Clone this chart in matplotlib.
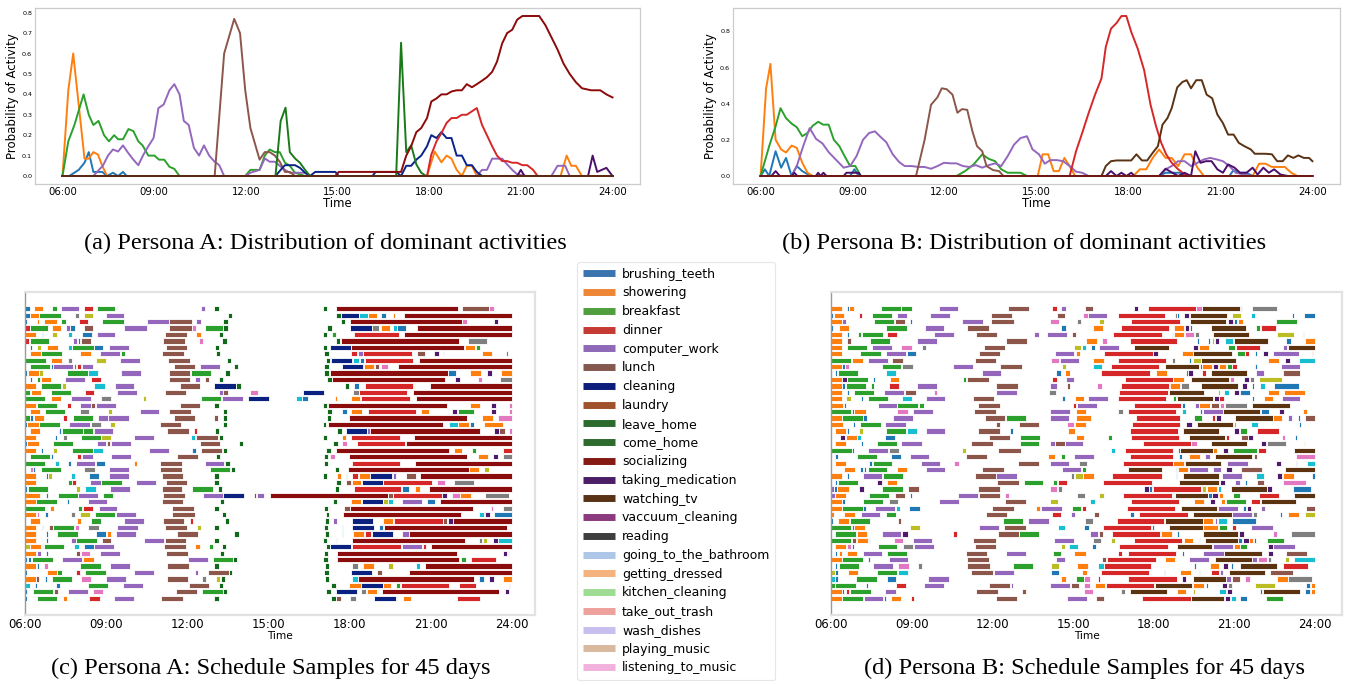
import matplotlib
matplotlib.use("Agg")
import matplotlib.pyplot as plt
from matplotlib.lines import Line2D

W, H = 1348, 685

HOURS = [6, 9, 12, 15, 18, 21, 24]
HOUR_LABELS = ["06:00", "09:00", "12:00", "15:00", "18:00", "21:00", "24:00"]

# ---------------- Persona A: dominant activity probabilities (hour, prob) -------------
A_SHOWERING = [(6.0, 0), (6.19, 0.42), (6.35, 0.60), (6.72, 0.085), (6.86, 0.085), (7.01, 0.117),
               (7.16, 0.105), (7.30, 0.05), (7.46, 0), (17.93, 0), (18.18, 0.12), (18.4, 0.067),
               (18.57, 0.10), (18.73, 0.085), (18.9, 0.03), (19.07, 0), (19.23, 0.05), (19.4, 0.05),
               (19.56, 0), (22.3, 0), (22.5, 0.10), (22.65, 0.05), (22.8, 0.05), (23.0, 0), (24.0, 0)]
A_BRUSHING = [(6.0, 0), (6.22, 0), (6.53, 0.03), (6.72, 0.065), (6.86, 0.117), (7.01, 0.02), (7.3, 0.02),
              (7.46, 0), (7.65, 0.016), (7.82, 0), (7.98, 0.02), (8.1, 0), (24.0, 0)]
A_BREAKFAST = [(6.0, 0), (6.19, 0.17), (6.39, 0.25), (6.69, 0.40), (6.86, 0.30), (7.01, 0.25), (7.18, 0.27),
               (7.36, 0.20), (7.52, 0.17), (7.69, 0.20), (7.82, 0.18), (7.98, 0.18), (8.16, 0.23),
               (8.32, 0.22), (8.48, 0.17), (8.62, 0.15), (8.81, 0.10), (9.01, 0.10), (9.16, 0.08),
               (9.33, 0.08), (9.5, 0.045), (9.66, 0.035), (9.83, 0), (11.98, 0), (12.15, 0.03),
               (12.45, 0.03), (12.62, 0.10), (12.78, 0.13), (12.95, 0.117), (13.11, 0.117),
               (13.28, 0.065), (13.44, 0.05), (13.61, 0.016), (13.94, 0), (24.0, 0)]
A_COMPUTER = [(6.0, 0), (7.01, 0), (7.16, 0.025), (7.32, 0.05), (7.49, 0.10), (7.65, 0.13), (7.82, 0.12),
              (7.98, 0.15), (8.15, 0.113), (8.32, 0.08), (8.48, 0.053), (8.65, 0.105), (8.81, 0.146),
              (8.98, 0.186), (9.14, 0.333), (9.31, 0.35), (9.5, 0.42), (9.66, 0.45), (9.83, 0.40),
              (9.97, 0.27), (10.13, 0.25), (10.3, 0.138), (10.47, 0.10), (10.63, 0.15), (10.8, 0.10),
              (10.96, 0.073), (11.13, 0.053), (11.29, 0), (11.98, 0), (12.15, 0.016), (12.45, 0.03),
              (12.62, 0.086), (12.78, 0.07), (12.95, 0.07), (13.11, 0.05), (13.28, 0.03), (13.44, 0.016),
              (13.94, 0.016), (14.1, 0), (19.56, 0), (19.73, 0.03), (19.89, 0.03), (20.06, 0.085),
              (20.22, 0.085), (20.39, 0.085), (20.55, 0.057), (20.72, 0.03), (20.88, 0.008),
              (21.2, 0), (22.0, 0), (22.2, 0.05), (22.45, 0.05), (22.6, 0), (24.0, 0)]
A_LUNCH = [(6.0, 0), (10.98, 0), (11.29, 0.60), (11.62, 0.77), (11.81, 0.70), (11.98, 0.42), (12.15, 0.235),
           (12.45, 0.08), (12.62, 0.117), (12.78, 0.117), (12.95, 0.10), (13.11, 0.07), (13.28, 0.02),
           (13.44, 0.02), (13.61, 0), (24.0, 0)]
A_LEAVE_HOME = [(6.0, 0), (12.97, 0), (13.14, 0.27), (13.3, 0.335), (13.44, 0.117), (13.61, 0.086),
                (13.77, 0.065), (13.94, 0.03), (14.1, 0), (16.92, 0), (17.08, 0.653), (17.25, 0.117),
                (17.41, 0.15), (17.58, 0.057), (17.74, 0.016), (17.9, 0), (24.0, 0)]
A_CLEANING = [(6.0, 0), (12.97, 0), (13.14, 0.03), (13.28, 0.053), (13.61, 0.053), (13.77, 0.04),
              (13.94, 0.016), (14.1, 0), (14.27, 0.02), (14.93, 0.02), (15.04, 0), (16.14, 0),
              (16.25, 0.02), (16.92, 0.02), (17.08, 0), (17.25, 0.05), (17.41, 0.05), (17.58, 0.08),
              (17.74, 0.10), (17.93, 0.146), (18.07, 0.20), (18.24, 0.186), (18.4, 0.215), (18.57, 0.186),
              (18.73, 0.186), (18.9, 0.10), (19.07, 0.10), (19.23, 0.053), (19.4, 0.053), (19.56, 0.02),
              (19.73, 0), (24.0, 0)]
A_SOCIALIZING = [(6.0, 0), (14.93, 0), (15.04, 0.02), (17.08, 0.02), (17.25, 0.10), (17.41, 0.146),
                 (17.58, 0.215), (17.74, 0.235), (17.93, 0.284), (18.07, 0.365), (18.24, 0.38), (18.4, 0.40),
                 (18.57, 0.40), (18.73, 0.414), (18.9, 0.42), (19.07, 0.42), (19.23, 0.45), (19.4, 0.435),
                 (19.56, 0.45), (19.73, 0.467), (19.89, 0.484), (20.06, 0.51), (20.22, 0.56), (20.39, 0.65),
                 (20.55, 0.70), (20.72, 0.717), (20.88, 0.766), (21.05, 0.784), (21.3, 0.784), (21.6, 0.784),
                 (21.8, 0.74), (22.0, 0.68), (22.2, 0.62), (22.4, 0.55), (22.6, 0.50), (22.8, 0.46),
                 (23.0, 0.43), (23.3, 0.42), (23.6, 0.42), (23.8, 0.40), (24.0, 0.385)]
A_DINNER = [(6.0, 0), (17.93, 0), (18.07, 0.105), (18.24, 0.17), (18.4, 0.21), (18.57, 0.26), (18.73, 0.284),
            (18.9, 0.284), (19.07, 0.30), (19.23, 0.30), (19.4, 0.317), (19.56, 0.333), (19.73, 0.25),
            (19.89, 0.20), (20.06, 0.146), (20.22, 0.10), (20.39, 0.073), (20.55, 0.073), (20.72, 0.065),
            (20.88, 0.065), (21.05, 0.053), (21.21, 0.053), (21.4, 0.03), (21.55, 0), (24.0, 0)]
A_MEDICATION = [(6.0, 0), (20.88, 0), (21.0, 0.03), (21.12, 0), (23.2, 0), (23.35, 0.10), (23.5, 0.02),
                (23.65, 0.03), (23.8, 0.04), (24.0, 0)]
A_BASELINE = [(6.0, 0), (24.0, 0)]

# ---------------- Persona B ----------------
B_SHOWERING = [(6.0, 0), (6.18, 0.485), (6.32, 0.62), (6.49, 0.20), (6.67, 0.147), (6.83, 0.13), (7.01, 0.168),
               (7.18, 0.156), (7.36, 0.073), (7.53, 0.018), (7.7, 0), (15.04, 0), (15.2, 0.12), (15.38, 0.12),
               (15.56, 0.027), (15.73, 0.027), (15.91, 0.10), (16.08, 0.055), (16.26, 0), (18.16, 0),
               (18.37, 0.037), (18.58, 0.037), (18.79, 0.10), (19.0, 0.147), (19.21, 0.10), (19.41, 0.10),
               (19.62, 0.055), (19.83, 0.12), (20.04, 0.12), (20.25, 0.046), (20.46, 0), (22.05, 0),
               (22.26, 0.068), (22.47, 0.068), (22.68, 0.05), (23.1, 0.05), (23.31, 0.018), (23.51, 0), (24.0, 0)]
B_BRUSHING = [(6.0, 0), (6.14, 0.037), (6.28, 0), (6.49, 0.137), (6.67, 0.046), (6.83, 0.10), (7.01, 0),
              (7.18, 0.055), (7.36, 0.027), (7.53, 0.01), (7.7, 0), (8.92, 0), (9.06, 0.037), (9.2, 0),
              (19.0, 0), (19.21, 0.018), (19.69, 0.018), (19.9, 0), (21.29, 0), (21.43, 0.033),
              (21.57, 0.018), (21.85, 0.018), (22.05, 0), (24.0, 0)]
B_BREAKFAST = [(6.0, 0), (6.28, 0.165), (6.49, 0.275), (6.65, 0.375), (6.83, 0.32), (7.01, 0.29), (7.18, 0.27),
               (7.36, 0.22), (7.53, 0.238), (7.7, 0.278), (7.88, 0.30), (8.04, 0.284), (8.22, 0.284),
               (8.39, 0.20), (8.57, 0.165), (8.74, 0.11), (8.92, 0.055), (9.09, 0.055), (9.27, 0),
               (12.39, 0), (12.67, 0.027), (12.95, 0.064), (13.23, 0.12), (13.44, 0.095), (13.65, 0.082),
               (13.85, 0.037), (14.06, 0.018), (14.48, 0.018), (14.69, 0), (24.0, 0)]
B_COMPUTER = [(6.0, 0), (7.01, 0), (7.18, 0.055), (7.39, 0.165), (7.6, 0.265), (7.81, 0.205), (8.02, 0.18),
              (8.22, 0.132), (8.43, 0.095), (8.71, 0.046), (8.92, 0.055), (9.13, 0.11), (9.34, 0.20),
              (9.54, 0.238), (9.73, 0.247), (9.89, 0.22), (10.1, 0.187), (10.31, 0.12), (10.52, 0.077),
              (10.7, 0.055), (10.93, 0.055), (11.14, 0.05), (11.35, 0.05), (11.56, 0.04), (11.77, 0.055),
              (11.98, 0.073), (12.19, 0.07), (12.39, 0.07), (12.6, 0.055), (12.81, 0.05), (13.02, 0.06),
              (13.23, 0.046), (13.44, 0.06), (13.65, 0.07), (13.85, 0.055), (14.06, 0.11), (14.27, 0.174),
              (14.48, 0.21), (14.69, 0.22), (14.87, 0.147), (15.08, 0.12), (15.27, 0.068), (15.45, 0.088),
              (15.66, 0.088), (15.87, 0.082), (16.08, 0.055), (16.29, 0.024), (16.49, 0.018), (16.7, 0),
              (19.0, 0), (19.21, 0.037), (19.41, 0.055), (19.62, 0.082), (19.83, 0.082), (20.04, 0.055),
              (20.25, 0.073), (20.46, 0.092), (20.67, 0.10), (20.87, 0.092), (21.08, 0.082), (21.29, 0.055),
              (21.5, 0.018), (21.71, 0.01), (22.05, 0), (24.0, 0)]
B_LUNCH = [(6.0, 0), (11.07, 0), (11.35, 0.20), (11.56, 0.394), (11.77, 0.436), (11.91, 0.485), (12.07, 0.48),
           (12.26, 0.45), (12.42, 0.35), (12.57, 0.37), (12.74, 0.366), (12.91, 0.247), (13.06, 0.165),
           (13.23, 0.137), (13.37, 0.055), (13.58, 0.033), (13.78, 0.027), (13.92, 0), (24.0, 0)]
B_DINNER = [(6.0, 0), (16.08, 0), (16.29, 0.137), (16.49, 0.238), (16.7, 0.348), (16.91, 0.45), (17.12, 0.54),
            (17.26, 0.714), (17.43, 0.815), (17.61, 0.846), (17.77, 0.885), (17.93, 0.885), (18.09, 0.797),
            (18.3, 0.705), (18.51, 0.586), (18.72, 0.394), (18.9, 0.275), (19.07, 0.183), (19.23, 0.12),
            (19.41, 0.073), (19.62, 0.037), (19.83, 0.01), (20.04, 0), (24.0, 0)]
B_TV = [(6.0, 0), (17.12, 0), (17.26, 0.055), (17.43, 0.082), (17.61, 0.086), (18.09, 0.086), (18.26, 0.12),
        (18.44, 0.086), (18.61, 0.086), (18.79, 0.128), (18.96, 0.165), (19.11, 0.284), (19.27, 0.32),
        (19.41, 0.375), (19.59, 0.49), (19.76, 0.52), (19.9, 0.53), (20.04, 0.485), (20.21, 0.53),
        (20.39, 0.53), (20.55, 0.45), (20.73, 0.43), (20.9, 0.34), (21.08, 0.293), (21.25, 0.229),
        (21.43, 0.229), (21.6, 0.183), (21.78, 0.165), (21.99, 0.147), (22.12, 0.123), (22.28, 0.123),
        (22.47, 0.123), (22.68, 0.12), (22.85, 0.082), (23.03, 0.082), (23.2, 0.114), (23.38, 0.10),
        (23.54, 0.114), (23.72, 0.10), (23.89, 0.10), (24.0, 0.082)]
B_MEDICATION = [(6.0, 0), (6.35, 0), (6.49, 0.027), (6.63, 0), (7.01, 0), (7.1, 0.018), (7.2, 0), (7.8, 0),
                (7.88, 0.018), (7.95, 0), (8.05, 0.018), (8.15, 0), (8.71, 0), (8.8, 0.018), (9.2, 0.018),
                (9.27, 0), (17.26, 0), (17.43, 0.027), (17.61, 0), (17.77, 0.018), (17.93, 0), (18.09, 0.018),
                (18.2, 0), (19.0, 0), (19.21, 0.04), (19.41, 0.02), (19.62, 0), (19.83, 0.018), (20.04, 0),
                (20.18, 0.137), (20.35, 0.073), (20.53, 0.082), (20.71, 0.082), (20.9, 0.037), (21.08, 0.018),
                (21.25, 0.064), (21.46, 0.046), (21.64, 0.018), (21.85, 0.018), (22.05, 0.046), (22.21, 0.008),
                (22.4, 0.046), (22.58, 0.018), (22.75, 0.037), (22.96, 0.008), (23.2, 0), (24.0, 0)]
B_BASELINE = [(6.0, 0), (24.0, 0)]

LINE_COLORS = {
    "brushing": "#1f77b4", "showering": "#ff7f0e", "breakfast": "#2ca02c", "computer": "#9467bd",
    "lunch": "#8c564b", "leave_home": "#1a7a1a", "cleaning": "#0a2388", "socializing": "#8b0a0a",
    "dinner": "#d62728", "medication": "#4b0f6b", "tv": "#5a3214", "base_a": "#5a2a10", "base_b": "#6e1a10",
}

# ---------------- Schedule samples: one string per day, tokens "<code><start>-<end>" in 10-min slots from 06:00 --
SCHED_A = [
    "b0 s2-4 f6-7 c8-12 d13-15 f16-20 c39-40 h42-43 h66-67 x69-96 l97-103 p103-104",
    "b0 s1-3 f3-8 g11-12 o13-15 c18-22 h45-46 h69-70 n70-74 y74-76 s76-78 b79-80 s81.5-82 x84-108",
    "b0-0.4 s2.7-3.2 s4.3-7 f8-9 d12-14 f17-22 c27-32 l32-37 c38-39 h44-45 h70-71 x72-97 p97-98 m104-105",
    "d0 f1-5 s6-8 c9-10 b10 l13-15 c22-27 l32-37 p37-38 f40-44 h44-45 h67-68 n72-77 g77-78.5 s79-81 y81.5-82.4 b82.6-84.5 x87-108",
    "s0-2.4 b3.7-4.1 o6-7 y9.5-10.4 b12.6-14.8 c16-20 l31-36 s38-39 h43-44 h66-67 f68-69 d73-83 x84-108",
    "d0-0.9 f1-5.4 c10.6-11.6 b11.8-12.2 l12.4-14.6 l30.7-35.5 p38.6-39.5 h43.7-44.7 h68.9-69.8 x70-96.3 g98.3-102.4",
    "b1-1.5 o2.7-3.6 s4.8-7.3 y9.5-10.4 f10.5-15.2 b15.3-17.4 c18.7-23 l31.3-35.9 h42.1-43 h66.1-67 n67.6-72.2 x72.4-97.3 s97.5-99.8 f100-100.9",
    "s1-3.5 f3.6-8.1 s12.2-14.6 c16.7-21.1 f21.3-22.2 l30.4-35.2 h42.4-43.3 h66.4-67.4 d72.4-73.7 c73.8-74.9 d75-85.9 l86.9-88.6 m90.7-91.8 p92.7-93 s101.3-103.6 g106.7-107.2",
    "f0-4.6 s5.8-8.3 g9.5-10.4 o15.7-17.9 c21.1-25.6 l31.7-36.5 h44.7-45.6 h66.7-67.6 n67.8-72.6 y72.8-74.1 b74.3-75.2 d75.3-86.1 x87.4-108",
    "f1-5.6 b5.7-6.2 c6.3-10.7 f10.9-11.3 d11.5-12.4 c12.6-15 l33-37.8 c38.7-43.2 h46.3-47.2 h66.4-67.4 n70.4-75 s75.2-77.5 l77.7-78.6 p78.9-80.6 x82.7-108",
    "b0-0.4 s0.6-3 o3.1-4.1 f9.3-13.9 y13.9-16.1 c21.3-25.7 l31.9-36.7 f36.8-41.3 h44.4-45.4 h66.4-67.5 x67.6-93.8 b93.9-95.5 s98.6-101.2 m102.5-103.5 s105.6-108",
    "b1-1.5 f2.7-3.3 s3.5-5.8 c8.9-13.3 d14.6-16.8 l32-36.7 c37.8-38.7 l40-40.9 h43-43.9 h67-68 x68-93.1 m95.3-96.4 p100.4-101.3 g105.4-108",
    "s0-2.4 f3.6-8 o8.1-9 y15.3-17.8 c19.9-24.2 l34.3-38.9 n42-46.7 h46.8-47.8 h71-71.9 b72.9-74.1 d75.4-86.1 s86.2-86.5 x89.8-108",
    "f0-1 s1.3-3.5 f5.8-10.1 d13.3-15.4 c20.5-24.8 l31-35.8 c43-43.9 l43.9-45 p50-51.7 n61.7-66.4 g72.7-74.1 d74.1-84.8 x86-108",
    "f0-4.4 s5.7-8 c10.2-14.7 g16.9-19 o26.1-26.9 f39.1-43.5 c43.7-48.3 n49.5-54 y60.2-61.5 b61.5-62.7 s68.8-69.1 s72.2-74.4 d74.6-85.3 x86.6-108",
    "s0-2.4 f2.6-7.2 d9.3-10.1 c12.2-14.6 l14.7-15.6 c15.7-20.1 l34.3-38.9 h42-43.1 h66.1-67 x67.3-93.5 s98.6-101 m103.3-104.4 p107.3-108",
    "s1-3.3 f4.4-8.9 g12.1-14.3 o18.5-19.4 c25.6-29.8 l31.9-36.8 h43.9-44.8 h66.9-68 y68-68.3 b70.4-71.3 s72.4-74.8 d76-86.8 s87.9-89.6 m94.8-95.9 f96-99.6 m103.3-104.4 p107.3-108",
    "f0-1 b1.1-1.7 s1.9-4.3 d8.5-9.4 f10.6-15 c16.1-18.3 c18.4-23 l33.1-37.8 l41.9-42.7 h43.9-44.8 h66.9-67.8 x71.9-98.1 s101.3-103.7 p104.8-108",
    "b0-0.4 s0.5-3 f3.1-7.8 c9.8-14.4 g14.6-16.8 o18.9-19.9 l30-34.7 h43.9-44.8 h66-66.8 x67.1-92.8 y94-96 s96-98.4 b98.6-99.6 s101.8-105.9",
    "s1-3.3 b7.6-8 f8.1-12.8 f12.8-15 c15.2-19.6 l31.6-36.3 d37.4-38.1 h42.2-43.1 h69.2-70.3 n71.2-75.8 c75.9-76.5 x76.5-100.9 m104.1-105.2 l105.2-106.4 p107.3-108",
    "s0-2.4 b6.7-7 g8.4-9.3 f12.4-16.8 o16.9-19.1 c24.2-28.7 y36.9-37.8 l37.9-42.7 h43.1-43.9 h66-67 s70.3-71.2 d72.3-83.2 x86.3-108",
    "b0-0.4 s0.5-3 f6.3-10.7 c15.9-18 l18.1-18.9 c19-23.5 l38.7-43.3 h47.4-48.3 h68.4-69.4 p70.4-71.5 d73.7-84.3 x84.5-108",
    "s0-2.4 b3.6-4.1 o6.3-7.2 f10.4-15 y15-17.3 c27.4-31.9 b37-38 l39.1-43.7 h43.9-44.8 h66.8-67.8 x68.9-94 s95.2-96.9 f99.1-100 d106.1-108",
    "f1-5.6 b5.7-6.3 d11.6-12.4 c12.6-15 c19-23.5 l33.7-38.4 h42.4-43.3 h66.3-67.3 p67.7-68.8 x71.9-98.1 s100.4-102.7 m103.8-104.9 g106.1-108",
    "f0-4.4 y6.7-7.6 b9.6-10.1 c11.3-15.6 b15.7-17.8 s24.1-24.8 l30-34.8 c39.9-44.2 h44.4-45.4 h66.3-67.3 d72.5-83.2 x86.4-108",
    "p1-1.7 b1.8-2.2 f3.6-8 g13.1-15.6 c18.7-23 l30-34.8 f41-45.4 h45.6-46.5 h68.8-69.7 x71.7-98.4 s98.5-100.7 o101.9-102.9",
    "s0-2.4 b4.6-5 o5-5.9 y10.1-11 b14.2-16.5 c18.7-23.1 l30.4-35 h42-43 h66.1-67 s69.2-70.1 f71.1-71.4 d72.5-73.8 s74-76.4 n76.6-81.4 c81.5-82.3 l84.5-86.6 x87.5-108",
    "s0-2.4 f9.5-10.4 d10.5-11.3 c14.4-16.8 f16.9-21.5 c24.7-29.1 l31.3-35.9 h42-43 h69-70 l71.2-72.3 s72.5-74.6 n74.7-79.3 d79.5-90.2 p91.4-93.1 g95.2-99.6",
    "b0-0.4 f0.7-5.2 o11.3-12.2 y13.3-15.7 c18.9-23.2 l30.4-34.8 f37-41.6 h42.7-43.7 h68.8-69.7 d72.9-83.4 b83.6-85.2 s86.5-87.5 x89.6-108",
    "s0-3.3 b4.6-5 f7.3-11.7 c11.7-16.1 f17.4-19.6 l30.7-35.4 c39.5-43.9 n43.9-48.5 d50.7-51.3 c51.4-53.1 x54.3-80.5 l80.6-81.5 d81.6-92.5 m92.5-93.6 p94.8-96.4 s96.5-98.9 g102.1-107.3",
    "s0-2.4 f2.4-7 b9.3-9.8 c13.9-18.1 l30.4-35 h43.3-44.1 h68.2-69.2 s72.3-74.6 n74.7-79.4 o79.5-80.4 y80.5-81.6 c83.7-88 b89.1-91 x92.1-108",
    "f0-4.4 s5.6-6.4 f11.7-12.6 d12.8-15 c16.3-20.5 l32.6-37.4 h42-43 h66.4-67.3 p67.4-67.7 l70.8-72 x72.1-99.3 p103.3-103.8 g106.1-108",
    "s0-2.4 p2.6-3.2 b4.4-5 g10.1-11.1 o12.2-14.4 f15.6-20 c20.1-24.6 l32.7-37.6 h43.7-44.6 h66.8-67.5 x70.6-96.7 y100.7-101.9 m102-103.2 b104.1-108",
    "s1-3.3 s11.6-12.4 f14.6-16.8 c22-26.4 l30.5-35.3 d36.5-37.3 h44.4-45.3 h66.5-67.4 c68.4-69.3 n72.5-77.1 s79.4-81.7 d81.9-92.6 l92.8-93.6 m93.8-94.9 x95-108",
    "s0-2.4 b3.7-4.1 l5.3-6.1 f6.3-10.9 p11-11.9 g13.9-16.4 c20.5-25 l31.1-35.9 o38.1-39.1 h42-43 h66.3-67.2 y70.3-70.5 n72.5-77.3 b78.4-79.4 x79.7-106.9",
    "s0-2.4 b4.6-5 f7.2-11.7 b15.8-18 s18.1-19 c20.1-24.6 l33.6-38.3 h46.4-47.4 h66.5-67.4 f70.3-70.6 s72.7-75.1 d75.3-76.8 n76.9-81.6 c83.7-85.1 x85.2-108",
    "s0-2.4 b4.6-5 c10.2-11.3 f11.3-15.9 l17-19.1 c26.3-30.9 l31-35.8 h42-43 h66.1-67 p69-69.3 x72.5-97.6 g100.7-101.3 o101.5-102.4 m103.7-104.8 y104.9-108",
    "o0-1 s1.1-3.6 b3.7-4.1 f4.3-8.7 y10.9-11.9 b13.1-15.3 c15.4-19.8 l30.9-35.6 s37.6-38.7 f40.7-41.6 h43.7-44.6 h66.7-67.6 n67.7-72.3 d72.5-83.4 c83.6-88 d88.2-88.9 x90.1-108",
    "s0-2.4 c2.6-3.5 b4.6-5 l11.3-12.2 p12.4-14.4 c16.7-21.1 l31.3-36.1 h43.2-44.1 h66.3-67.2 x69.3-95.8 m105.9-106.9 c107.1-107.4",
    "b0-0.4 b0.6-1.3 f1.5-6.1 c8.3-12.7 s12.9-15.2 c36.1-40.5 f41.6-46.1 h46.1-47.1 h66.1-67.1 x69.3-96.2 f96.7-97.8 d98.9-104.4",
    "s0-2.4 b2.6-3.1 p4.2-5 f12.2-16.8 c18.9-23.3 l31.5-36.3 h42-43 h66.5-67.4 g72.5-73.8 s74.9-77.5 o80.6-81.7 y86.8-87.6 x88.8-108",
    "b0-0.5 s4.8-7 f7.2-8.3 d11.3-12.2 f13.3-18 c24.1-28.5 c37.6-38.4 l40.5-45.2 h45.2-46 h66.4-67.4 n72.3-76.9 l78-79.1 x85.2-108",
    "s0-2.4 l2.4-3.2 b4.4-4.8 f5.9-10.4 p12.4-14.7 c17.9-22.4 l31.5-36.2 g39.3-40.2 o42.4-43.3 h43.5-44.4 h66.5-67.4 y72.5-73.8 x73.8-99.5 b100.6-101.7 m102.9-104 s106.1-108",
    "y0-1 b2.2-2.7 b6.9-7.8 f13.9-18.5 c21.7-26.1 l36.3-40.9 h43-43.9 h67.8-68.9 s71.9-74.5 n74.6-79.3 s79.4-81.2 f82.3-83.2 d83.4-94.1 d96.3-100.1 c107.3-107.6",
    "b0-0.5 f1.7-6.3 l6.4-7.4 c9.5-13.9 p15-17.3 l33.5-38.1 f39.3-43.9 h43.9-44.8 h66.8-67.8 n68.9-73.6 g74.6-75.7 s75.8-78 x79.1-105.2 m106.4-107.4",
    "b0-0.5 f2.6-7.2 s8.4-9.3 d14.3-16.7 c19.8-24.1 l30.2-35 h42-43 h67.9-68.9 l69-70 g72.1-73.4 n77.5-82.3 b82.3-82.6 s83.8-85.6 d95.8-100.9",
]

SCHED_B = [
    "s0-2.4 b3.5-4 s4.1-5.1 f11.1-15.7 f15.7-18 c24.1-28.4 l39.5-44.2 d49.4-50.4 c51.4-52.5 l56.7-58.4 m67.5-68.6 d70.8-81.4 p81.5-82.7 t82.8-91.3 b91.4-91.8 g94-99.5",
    "b0-0.5 s0.6-3 d6.2-7 f9.1-13.7 c14.8-17 c22-26.5 l35.8-40.4 l50.5-52.1 p56.2-57.3 c57.4-61.6 d64-74.6 g76.8-77.1 b77.2-77.7 m78.8-79.9 t80-88.4 o89.4-91.4 y93.7-94.6 b102.8-103.2 b105.5-108",
    "s0-2.4 c2.4-3.4 f9.6-14.1 l14.3-16.5 b17.7-18.1 c29.3-33.8 l35.8-40.8 p48.8-50.8 g54.9-55.8 o59.9-60.8 d66.9-77.8 t80-88.2 m88.6-89.6 b89.8-90.5 s90.7-92 f99.2-104",
    "b0-0.5 s1.8-4.1 f12.2-16.9 c20.9-25.2 l30.4-35.3 b51.4-52.5 s58.5-60.6 d64.6-75.3 s76.6-78.8 m79-79.9 b80.1-80.5 t84.8-92.5 f94.8-95.7 d95.9-99.2",
    "s0-2.4 b3.5-4 f6.1-6.8 f7-11.5 d12.6-14.8 c23-27.4 l32.4-37.1 c45.3-46.3 c48.2-52.6 l53.7-54.7 d62.9-73.8 b76-76.4 s76.6-78.8 p79-81 g81.1-82 t85.3-93.3 o99.5-103.3 y105.3-105.6",
    "s0-2.4 l3.5-4.4 f8.7-13.1 c19.2-23.7 l39-43.7 s56.9-59.3 p60.4-61.5 d66.6-77.3 b81.6-82.2 b84-84.5 o85-85.5 m85.6-86.6 y87.9-89.6 t89.8-97.6 b101.6-102.6 s105.8-108",
    "s0-2.4 f3.5-8.1 c9.2-13.7 p15.7-18.1 g20.2-21.1 l34.1-38.9 o54.1-55.8 y56-56.9 b58-58.8 c59.9-64.3 t67.5-75.3 m80.8-81.9 s82.2-84.4 f88.6-90.2 d90.3-95.7 c100.9-101.8 t102-108",
    "s0-2.4 f6.5-11.1 c12.2-16.7 b16.9-18.9 l33-37.8 c49.9-54.3 s54.6-55.6 d60.8-71.8 m71.9-73 s78.2-80.7 t80.8-89.4 f90.5-92.3 d92.4-93.3 b94.6-95 m96.3-97.4 c98.6-104.4 l107.3-107.6",
    "f0-4.5 s4.6-7.1 c8.2-12.8 l13.7-16.1 l32.2-36.9 p49.1-50.9 c51-55.3 s58.5-60.9 d64-74.7 g76-76.8 b79.9-80.4 o80.7-82.5 t82.6-90.3 s97.5-100 m101.2-102.3 y104.4-108",
    "s0-2.4 b2.5-3.1 p3.2-4.1 f11.3-15.7 g15.9-18.2 c27.2-31.6 l37.6-42.5 o51.5-52.5 y58.5-60.4 d62.5-73.2 t74.5-82.2 b82.4-82.7 s82.7-85.1 m85.3-86.4 s86.5-88.2 f88.3-89.4 d89.4-90.5 b94.6-95 c100.3-104.6",
    "b0.9-1.4 f1.6-6.1 y12.2-14.5 c33.6-38 b50.1-51.2 s52.3-53.4 d60.3-71.2 s72.4-75 f79.2-79.6 m79.6-80.7 d82.7-83.6 t84.8-92.7 c94.8-96.6 l100.8-104.6",
    "s0-2.4 m2.4-3.5 f3.6-8.2 b9.4-9.9 s13.1-15.2 f29.5-30.2 l30.4-35.2 d49.4-50.4 c52.5-54.3 d65.5-76.2 s76.4-78.8 t80.3-88.8 p89-89.9 m92.2-93.3 g93.4-94.4 o95.5-100.7",
    "s0-2.4 b2.5-3.1 f3.3-7.8 f8.9-9.7 d12.9-15.1 c19.2-23.7 l36.7-41.7 c48.8-50.5 l52.6-53.4 p59.4-60.4 d64.6-75.3 s75.6-77.9 g78.1-79.9 t82.5-90.7 m91.7-92.9 b94-94.4 y95.7-96.8 b98.9-104.4",
    "s0-2.4 b3.5-4 f5.1-9.7 c11.8-16.3 l16.5-18.9 p22.9-23.7 c36.7-41.4 g48.6-50.3 d64.3-75.1 t75.3-83.3 o86.4-86.7 y87.7-88.7 m89.9-91.1 b91.2-93.5 s97.6-100 s101.1-105.8",
    "s0-2.4 o3.3-4.4 b6.6-7.1 f8.2-12.8 y15.9-18 c21.2-25.4 l31.6-36.4 b51.5-52.3 s54.5-56.4 c57.4-61.9 d64-74.7 f76.2-77 t77.1-85.3 m85.5-86.6 d86.6-87.7 b93.9-94.3 s96.5-98.7 c100.7-104.6",
    "s0-2.6 b2.9-3.3 c10.4-14.8 f14.8-19.5 f19.6-20.7 l32.8-37.6 d54-54.7 c54.9-59.3 d67.5-78.1 b78.4-79 c81.3-82.2 s82.2-84.6 l84.8-86.6 p86.8-87.7 g87.9-92.7 t93.9-102.4",
    "f0-4.5 b4.6-5.1 s5.2-7.7 p14.8-17.1 c18.3-22.8 l31.8-36.7 c48.9-53.4 s54.6-56.9 g64.1-65.1 d66.2-77 y78.4-79.3 b82.4-82.7 c82.9-87.4 t87.5-95.7 b95.9-97.7 m100-101 s105.2-106.3",
    "s0-2.4 f2.4-7.1 b7.2-8.1 c13.9-18.2 l34.4-38.9 f39-43.6 c48.8-53.2 s54.6-57.9 d68-77.8 f80.9-82.7 d84.9-85.6 m85.9-87 t90.1-98.5 s98.6-100.7 c102-102.9 b104.1-104.6 l105.8-108",
    "s0-2.6 b4.8-5.3 f6.5-11.1 c12.1-16.7 l36.9-37.8 l41.9-46.5 p52.7-54.3 s54.5-56.9 d67.2-77.8 m79.3-80.5 t81.6-89.7 o90-90.3 y93.7-95.3 b104.4-104.9",
    "s1-3.3 b3.5-4 o6.2-7.1 f12.2-16.7 y16.9-19.1 c21.2-25.5 l32.7-37.6 b40-40.6 s52.9-54.5 d66.8-77.5 t78.6-86.6 m89.9-91.1 f91.2-92.8 d95-100",
    "m2-3.1 s3.3-5.7 y5.9-6.8 b12-14.3 l35.3-40 f42.1-46.7 s54.7-56.5 f61.7-62.7 d66.9-77.7 t79.9-87.9 d88.1-88.8 l91.4-93.1 m93.1-94.2 p100.6-101.3 b103.5-103.9",
    "s1-3.3 b6.6-7.1 f10.2-14.8 c15.7-20.2 l31.3-36.2 f42.2-46.5 c48.8-49.9 l50-52.1 c52.3-56.3 d69.7-80.3 p80.4-81.6 t84.8-92.9 m95.9-97 g97.2-101.5 o105.5-105.8",
    "f0-4.6 b4.7-5.1 c8.3-12.8 g12.9-15.1 o29.3-30.2 l37.3-42.3 y62.5-63.4 d65.6-76.4 b77.5-77.8 t77.9-85.3 s85.3-86.1 m87.4-88.5 f89.6-95.1 d95.3-97 t103.3-108",
    "b0.9-1.5 f5.7-10.3 b13.4-15.6 c17.7-21.9 l30.2-34.9 s48.3-49.9 f51.2-52.1 c54.3-58.6 d66.8-76.2 b77.7-78.4 s79.9-82.3 c83.4-84.5 t85.6-94 l94.3-95.1 p103.8-108",
    "s1-3.3 b8.5-9.2 f9.3-13.7 c20-24.3 p27.5-28.6 l41.7-46.5 c48.8-53.2 g55.3-57.1 d65.2-76.2 s76.2-78.8 t79-87.1 c88.3-93.1 m99.2-100.3 b103.7-104 y106.1-108",
    "s2.9-5.3 b6.5-7.2 b7.3-7.9 f8.2-12.6 s14.8-17 c21.2-25.4 l33.6-38.5 c51.6-55.8 f55.9-56.9 t66.2-73.8 b77-77.3 s77.5-79.7 c79.9-84.2 c85.3-87.1 m88.2-89.4 l91.4-96.1 t101.3-108",
    "s0-2.4 b3.5-4 c7.1-11.4 f11.5-16 l32.2-36.7 c36.9-41.4 g53.6-54.1 o54.5-56.2 s56.2-58.6 d62.7-73.8 b77-77.3 t78.6-86.6 c87.2-91.6 y94.8-96.5 m99.6-100.7 s100.9-103.3 b107.4-107.9",
    "b0.9-1.4 f1.6-6.1 m10.3-11.4 s12.5-14.8 l37-41.9 f43-47.4 f49.5-50.5 d50.6-52.6 d60.6-71.6 t77.7-86.6 m86.8-87.9 c90.1-91.2 b92.3-92.9 l95-96.6 p100.9-106",
    "c0-0.7 b0.7-1.3 s1.4-4 m6.2-7.3 f11.4-16.1 l17.2-19.7 l32.8-37.6 p48.8-50.5 g50.6-51.6 m69.9-71 b71-71.6 d71.8-82.5 o82.7-83.6 s83.8-86.1 y86.4-87 t89.2-97.2 m97.2-98.3 b103-107",
    "c0-0.9 s1-3.3 f8.5-12.9 l14.3-16.6 b17.7-18.1 c28.4-32.8 l33-37.6 p38.8-39.6 g54.9-56.7 o59.9-60.8 d65.1-76 y76.2-76.6 t76.7-84.2 b84.2-85 m85.1-86.4 s86.5-87.4 f89.6-91.3 d95.4-100 t103.3-108",
    "s0-2.4 b2.5-3.1 f7.2-11.7 g12.9-15 c24.1-28.6 l38.8-43.6 o48.8-50.6 y57.7-58.8 d66.9-77.7 s81-83.3 m84.5-85.6 s87-87.9 f88.1-92.5 d93.7-95.7 t95.9-103.8",
    "s0-2.4 f2.5-7.1 b7.2-7.7 c9.8-14.3 y14.4-15.4 b17.4-19.8 l36-40.8 s45.8-46.7 c46.9-51.5 f53.7-55.8 d55.9-56.9 d66-76.8 t78.1-86.2 c86.4-90.9 b92-92.5 m92.7-93.7 c95.9-96.9 l105.9-108",
    "s0-0.7 s3-5.3 c6.6-10.9 f12.2-14.4 l34.5-39.3 d49.4-51.4 c53.5-54.5 l58.6-59.7 b66.8-67.5 d68.8-79.6 t80.8-89.4 c89.4-94 g94.2-95.1 b100.2-100.7 s102-104.4 o105.7-108",
    "b0-0.5 s1.6-4.1 f4.2-8.7 l15-15.7 f38.4-42.8 c43.9-48.6 g56.7-58.5 d63.8-74.4 t74.6-83 s83.1-85.3 c85.6-86.2 y86.4-88.3 b89.4-94.8",
    "f0-4.5 b4.6-5.1 s5.2-7.6 o17.7-19.8 c33-37.5 l38.6-43.4 y50.6-52.3 b56.5-57.5 d60.6-71.4 b71.6-72.1 t75.3-82.9 s83-86.4 f86.5-88.3 d89.4-90.3 c93.7-98.6",
    "b0.9-1 f1-5.6 s5.7-8.1 c11.4-15.7 m15.9-17.1 d27.2-28.1 l37.3-41.9 f41.9-46.5 c57.7-59.5 l59.7-60.6 d62.7-73.4 s73.6-76.1 b77.2-77.7 t82.9-90.9 m91.1-92.2 p98.5-99.4 g102.6-107.9",
    "f0-4.5 l4.6-5.6 s5.9-8.3 b8.5-8.8 p14-16.1 c18.3-22.6 l31.7-36.7 c49.7-54.1 g58.4-60.3 o62.5-63.4 d67.5-78.4 s78.7-80.8 y82.1-82.3 t83.5-90.7 b90.8-91.8 m92-93.3 s93.3-94.2 b94.4-94.9 f97.2-101.1",
    "s1-3.3 p3.5-4.4 b4.6-5.2 f10.4-14.8 g16-18.3 c18.5-22.9 l32.1-36.9 o51.2-52.1 y53.2-55.1 b58.2-59.1 d64.3-75.1 t77.3-85.1 c85.3-89.7 s90-91.2 f91.2-92.9 m97.5-98.6 c98.7-103.5",
    "b0.9-1.4 s1.8-2.4 s3.6-5.9 c7.1-11.4 f12.5-17 l30.2-34.9 c39-43.4 f49.5-51.2 s54.3-56.8 d64-64.9 d66.2-77 b78.2-78.8 c83.1-87.6 t87.7-96.1 m97.4-98.5 l101.6-106.3",
    "s0-2.4 f2.5-7.1 b8.3-8.7 c12.9-17.2 l30.4-35.2 c50.1-52.3 l60.5-61.4 d61.5-72.4 s74.6-76.8 c79.9-84.4 t85.6-94 c94-95.1 p95.3-97.2 g97.4-98.1 o101.2-102.2 y103.3-107.9",
    "b0.9-1.4 f1.8-6.2 c9.4-13.9 p15-17.4 g19.5-20.2 l30.4-35.4 f40.5-45.1 o49.1-50.9 s54.9-57.3 y59.5-60.8 d60.8-71.4 b80.9-81.4 s84.6-86.5 m87.5-88.6 b89.2-89.6 t91.2-99.6 d100.9-106.4",
    "o0-0.9 b1-1.5 s3.7-6.1 f10.2-14.8 y15-17.2 l31.3-36.2 c36.4-40.8 b49-50.9 s56-57.1 d60.3-71 b74.2-74.6 s77.8-80.3 f82-82.3 d84.8-86.6 c86.8-87.5 t88.7-96.9 l98-103",
    "y0-0.9 b1-1.5 f5.6-10.3 b12.4-14.6 c21.7-26.3 s51.4-52.5 f54.6-56.5 p56.5-57.7 d59.5-60 d66.3-77.1 m78.2-79.3 t80.7-88.1 c88.2-89.2 l89.4-91.3 p92.4-93.5 s99.6-102 g102-107.2",
    "f0-0.9 f1-5.6 b7.7-8.2 d14.4-16.7 c20.8-25.2 l35.3-40 c40.2-40.5 c48.9-53.4 l53.6-55.4 p56.5-57.7 s58.8-61.2 d61.4-72.1 t72.3-80.5 s80.8-83.3 b83.6-84 m87.2-88.3 g88.5-89.4 o94.6-99.1 b105.9-106.8 s107-108",
    "s0-2.4 b2.5-3 d3.3-4.1 f4.2-8.9 c12-14.4 l32.4-37.3 l42.5-43.4 p56.5-58.5 g64.7-65.7 t66.8-75 s77.1-79.3 o80.7-81.3 y86.6-88.2 m88.3-89.4 b95.7-96.1 t96.3-104.6 b105.8-106.8 s107-108",
    "s0-2.4 f2.5-7.2 c7.3-11.7 b11.8-12.2 s13.4-15.6 d17.8-18.6 l36.9-41.5 c52.6-57.1 l59.1-60.8 d69.3-80.3 t80.4-87.7 m88-89.1 y89.2-90.3 b91.2-92.8 f97-100.9",
]

SCHED_COLORS = {
    "b": "#1f77b4", "s": "#ff7f0e", "f": "#2ca02c", "d": "#d62728", "c": "#9467bd", "l": "#8c564b",
    "n": "#0b2180", "h": "#13691b", "x": "#8b0c0c", "m": "#4e1a6c", "t": "#5b3311", "g": "#7f7f7f",
    "o": "#bcbd22", "y": "#17becf", "p": "#e377c2",
}

LEGEND_LABELS = ["brushing_teeth", "showering", "breakfast", "dinner", "computer_work", "lunch", "cleaning",
                 "laundry", "leave_home", "come_home", "socializing", "taking_medication", "watching_tv",
                 "vaccuum_cleaning", "reading", "going_to_the_bathroom", "getting_dressed", "kitchen_cleaning",
                 "take_out_trash", "wash_dishes", "playing_music", "listening_to_music"]
LEGEND_COLORS = ["#3b75af", "#ef8636", "#519e3e", "#c53a32", "#8d69b8", "#84584e", "#0c1c7a", "#a0522d",
                 "#2d6a2d", "#2d6a2d", "#841a11", "#4a1f66", "#5a3216", "#8b3a7e", "#3e3e3e", "#aec7e8",
                 "#f4b27c", "#9fdc93", "#eea19c", "#c9bfef", "#d8b99e", "#f2b1dc"]

CAPTIONS = ["(a) Persona A: Distribution of dominant activities",
            "(b) Persona B: Distribution of dominant activities",
            "(c) Persona A: Schedule Samples for 45 days",
            "(d) Persona B: Schedule Samples for 45 days"]

# ------------------------------------------------------------------------------------------
fig = plt.figure(figsize=(W / 100, H / 100), dpi=100)
fig.patch.set_facecolor("white")


def px_axes(l, t, r, b):
    return fig.add_axes([l / W, 1 - b / H, (r - l) / W, (b - t) / H])


def line_panel(ax, series, yticks):
    for pts, col in series:
        ax.plot([p[0] for p in pts], [p[1] for p in pts], color=col, lw=1.4, solid_joinstyle="round")
    ax.set_xlim(5.1, 24.9)
    ax.set_xticks(HOURS)
    ax.set_xticklabels(HOUR_LABELS, fontsize=7.3)
    ax.set_yticks(yticks)
    ax.set_yticklabels(["%.1f" % v for v in yticks], fontsize=4.6)
    ax.tick_params(axis="both", length=0, pad=2)
    ax.tick_params(axis="x", pad=2.5)
    ax.set_xlabel("Time", fontsize=8.4, labelpad=0)
    ax.set_ylabel("Probability of Activity", fontsize=8.5, labelpad=2)
    for sp in ax.spines.values():
        sp.set_color("#cccccc")
        sp.set_linewidth(0.9)


ax_a = px_axes(35, 8, 640, 184)
line_panel(ax_a, [
    (A_BRUSHING, LINE_COLORS["brushing"]), (A_SHOWERING, LINE_COLORS["showering"]),
    (A_BREAKFAST, LINE_COLORS["breakfast"]), (A_COMPUTER, LINE_COLORS["computer"]),
    (A_LUNCH, LINE_COLORS["lunch"]), (A_CLEANING, LINE_COLORS["cleaning"]),
    (A_LEAVE_HOME, LINE_COLORS["leave_home"]), (A_DINNER, LINE_COLORS["dinner"]),
    (A_SOCIALIZING, LINE_COLORS["socializing"]), (A_MEDICATION, LINE_COLORS["medication"]),
    (A_BASELINE, LINE_COLORS["base_a"]),
], [0.0, 0.1, 0.2, 0.3, 0.4, 0.5, 0.6, 0.7, 0.8])

ax_b = px_axes(733, 8, 1340, 184)
line_panel(ax_b, [
    (B_BRUSHING, LINE_COLORS["brushing"]), (B_SHOWERING, LINE_COLORS["showering"]),
    (B_BREAKFAST, LINE_COLORS["breakfast"]), (B_COMPUTER, LINE_COLORS["computer"]),
    (B_LUNCH, LINE_COLORS["lunch"]), (B_DINNER, LINE_COLORS["dinner"]),
    (B_TV, LINE_COLORS["tv"]), (B_MEDICATION, LINE_COLORS["medication"]),
    (B_BASELINE, LINE_COLORS["base_b"]),
], [0.0, 0.2, 0.4, 0.6, 0.8])


def schedule_panel(ax, rows, xmax):
    ys, lefts, widths, cols = [], [], [], []
    for i, row in enumerate(rows):
        for tok in row.split():
            code, rng = tok[0], tok[1:]
            if "-" in rng:
                a, b = (float(v) for v in rng.split("-"))
            else:
                a = float(rng)
                b = a + 1
            ys.append(i)
            lefts.append(6 + a / 6.0)
            widths.append((b - a) / 6.0)
            cols.append(SCHED_COLORS[code])
    ax.barh(ys, widths, left=lefts, height=0.82, color=cols, edgecolor="white", linewidth=0.6)
    ax.set_xlim(6, xmax)
    ax.set_ylim(len(rows) + 1.6, -2.6)
    ax.set_yticks([])
    ax.set_xticks(HOURS)
    ax.set_xticklabels(HOUR_LABELS, fontsize=8.4)
    ax.tick_params(axis="x", length=0, pad=2)
    ax.set_xlabel("Time", fontsize=7.6, labelpad=0)
    for name, sp in ax.spines.items():
        sp.set_color("#e2e2e2")
        sp.set_linewidth(1.6)
    ax.spines["left"].set_color("#9a9a9a")
    ax.spines["left"].set_linewidth(1.0)


ax_c = px_axes(25, 292, 535, 615)
schedule_panel(ax_c, SCHED_A, 24.85)
ax_d = px_axes(831, 292, 1342, 615)
schedule_panel(ax_d, SCHED_B, 25.0)

handles = [Line2D([0], [0], color=c, lw=5, solid_capstyle="butt") for c in LEGEND_COLORS]
leg = fig.legend(handles, LEGEND_LABELS, loc="upper left", bbox_to_anchor=(577 / W, 1 - 262 / H),
                 fontsize=9, handlelength=2.6, handletextpad=0.55, labelspacing=0.46,
                 borderpad=0.45, borderaxespad=0, frameon=True, fancybox=True)
leg.get_frame().set_edgecolor("#e0e0e0")
leg.get_frame().set_linewidth(0.8)

cap_pos = [(325, 243), (1024, 243), (271, 668), (1085, 668)]
for txt, (x, y) in zip(CAPTIONS, cap_pos):
    fig.text(x / W, 1 - y / H, txt, ha="center", va="center", fontsize=17.6,
             family=["Liberation Serif", "DejaVu Serif"])

fig.savefig("out.png", dpi=100, facecolor="white")
